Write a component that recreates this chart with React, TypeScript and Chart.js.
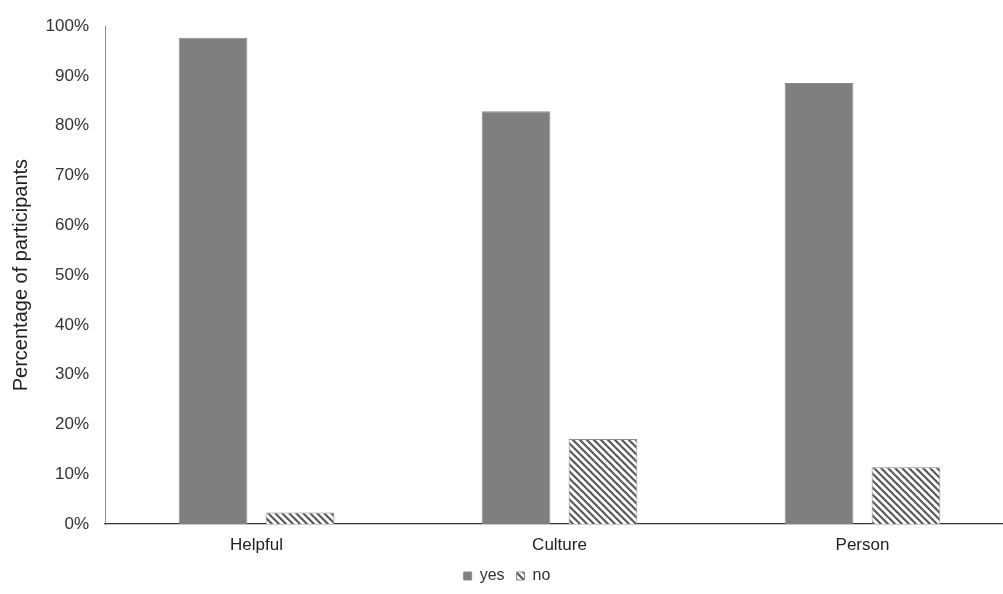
import React, { useEffect, useRef } from "react";
import { Chart, registerables } from "chart.js";

Chart.register(...registerables);

// Share of participants answering yes / no per question
const categories = ["Helpful", "Culture", "Person"];
const yesValues = [97.7, 82.9, 88.6];
const noValues = [2.3, 17.1, 11.4];
const seriesLabels = ["yes", "no"];

const CANVAS_W = 1020;
const CANVAS_H = 594;
const FONT = "Liberation Sans, Arial, sans-serif";

function makeHatch(): CanvasPattern | string {
  const s = 7;
  const tile = document.createElement("canvas");
  tile.width = s;
  tile.height = s;
  const ctx = tile.getContext("2d");
  if (!ctx) return "#999";
  ctx.fillStyle = "#ffffff";
  ctx.fillRect(0, 0, s, s);
  ctx.strokeStyle = "#5a5a5a";
  ctx.lineWidth = 2.2;
  ctx.lineCap = "square";
  for (let k = -1; k <= 1; k++) {
    ctx.beginPath();
    ctx.moveTo(k * s, 0);
    ctx.lineTo(k * s + s, s);
    ctx.stroke();
  }
  const pattern = ctx.createPattern(tile, "repeat");
  return pattern || "#999";
}

export default function App() {
  const canvasRef = useRef<HTMLCanvasElement | null>(null);

  useEffect(() => {
    const canvas = canvasRef.current;
    if (!canvas) return;
    const hatch = makeHatch();
    const chart = new Chart(canvas, {
      type: "bar",
      data: {
        labels: categories,
        datasets: [
          {
            label: seriesLabels[0],
            data: yesValues,
            backgroundColor: "#7f7f7f",
            borderColor: "#8a8a8a",
            borderWidth: 1,
            categoryPercentage: 0.574,
            barPercentage: 0.79,
          },
          {
            label: seriesLabels[1],
            data: noValues,
            backgroundColor: hatch as any,
            borderColor: "#8c8c8c",
            borderWidth: 1,
            categoryPercentage: 0.574,
            barPercentage: 0.79,
          },
        ],
      },
      options: {
        responsive: false,
        animation: false,
        devicePixelRatio: 1,
        layout: { padding: { top: 23, right: 6, bottom: 0, left: 0 } },
        plugins: {
          tooltip: { enabled: false },
          legend: {
            position: "bottom",
            labels: {
              boxWidth: 8,
              boxHeight: 8,
              color: "#333",
              font: { family: FONT, size: 16 },
              padding: 12,
            },
          },
        },
        scales: {
          x: {
            grid: { display: false, drawTicks: false },
            border: { display: true, color: "#333", width: 1.2 },
            ticks: {
              color: "#222",
              padding: 11,
              font: { family: FONT, size: 17 },
            },
            afterFit: (scale: any) => {
              scale.height = 32;
            },
          },
          y: {
            min: 0,
            max: 100,
            grid: { display: false, drawTicks: false },
            border: { display: true, color: "#888", width: 1 },
            ticks: {
              stepSize: 10,
              color: "#333",
              padding: 16,
              font: { family: FONT, size: 17 },
              callback: (v: any) => `${v}%`,
            },
            title: {
              display: true,
              text: "Percentage of participants",
              color: "#222",
              padding: { top: 9, bottom: 0 },
              font: { family: FONT, size: 20 },
            },
            afterFit: (scale: any) => {
              scale.width = 105;
            },
          },
        },
      },
    });
    return () => chart.destroy();
  }, []);

  return (
    <div
      style={{
        position: "fixed",
        left: 0,
        top: 0,
        width: 1003,
        height: 594,
        overflow: "hidden",
        background: "#fff",
      }}
    >
      <canvas ref={canvasRef} width={CANVAS_W} height={CANVAS_H} />
    </div>
  );
}
